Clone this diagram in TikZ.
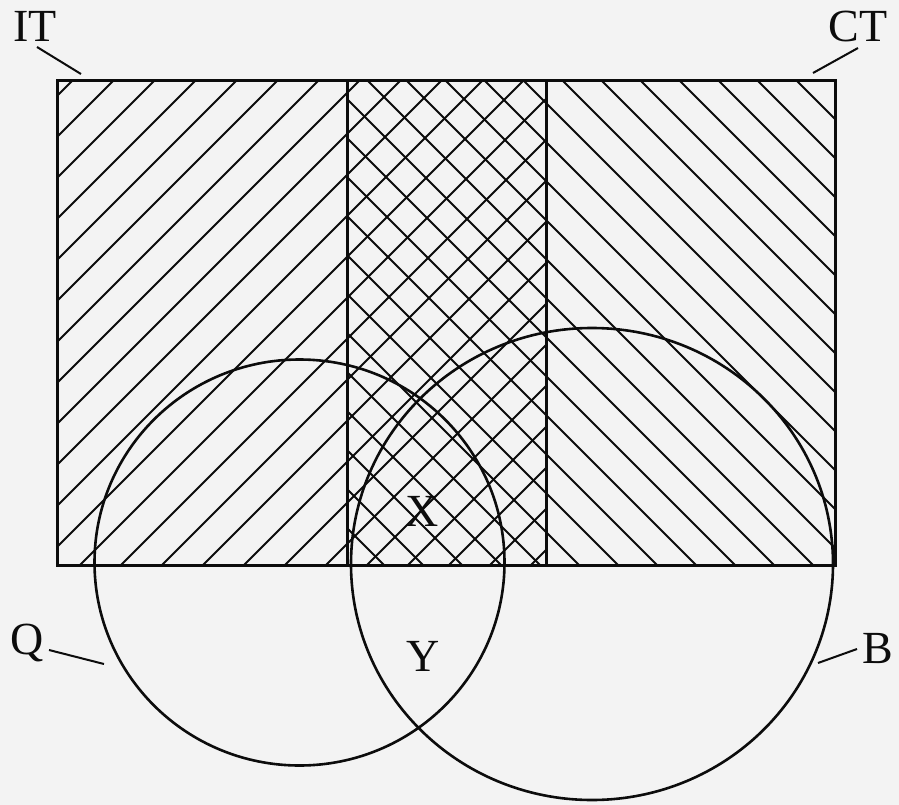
\documentclass[tikz,border=0pt]{standalone}
\usepackage{fontspec}
\setmainfont{Liberation Serif}
\definecolor{paper}{RGB}{243,243,243}
\definecolor{ink}{RGB}{12,12,12}
\tikzset{
  hatch/.style={draw=ink, line width=2pt},
  frame/.style={draw=ink, line width=3pt},
  ring/.style={draw=ink, line width=2.6pt},
  lead/.style={draw=ink, line width=2pt},
  lbl/.style={text=ink, inner sep=0pt, font=\fontsize{46}{50}\selectfont}
}
\begin{document}
\begin{tikzpicture}[x=1pt,y=-1pt]
\fill[paper] (0,0) rectangle (899,805);
\useasboundingbox (0,0) rectangle (899,805);
% IT hatching (/)
\begin{scope}
  \clip (57,81) rectangle (546,565);
  \foreach \k in {-2,...,23}{
    \pgfmathsetmacro{\c}{194+41*\k}
    \draw[hatch] (\c,0) -- (\c-700,700);
  }
\end{scope}
% CT hatching (\)
\begin{scope}
  \clip (347,81) rectangle (835,565);
  \foreach \k in {-8,...,19}{
    \pgfmathsetmacro{\c}{482-39*\k}
    \draw[hatch] (\c,0) -- (\c+700,700);
  }
\end{scope}
% frames
\draw[frame] (57,81) rectangle (835,565);
\draw[frame] (347,81) -- (347,565);
\draw[frame] (546,81) -- (546,565);
% circles
\coordinate (qc) at (299.5,562.5);
\coordinate (bc) at (592,564);
\draw[ring] (qc) ellipse [x radius=205pt, y radius=203pt];
\draw[ring] (bc) ellipse [x radius=241pt, y radius=236pt];
% labels
\node[lbl] (it) at (35,26) {IT};
\node[lbl] (ct) at (858,26) {CT};
\node[lbl] (q) at (27,643) {Q};
\node[lbl] (b) at (878,649) {B};
\node[lbl] (x) at (422,511) {X};
\node[lbl] (y) at (423,656) {Y};
% leader lines
\coordinate (itend) at (81,74);
\coordinate (ctend) at (813,73);
\coordinate (qend) at (104,664);
\coordinate (bend) at (818,663);
\draw[lead] (37,47) -- (itend);
\draw[lead] (858,48) -- (ctend);
\draw[lead] (49,650) -- (qend);
\draw[lead] (857,649) -- (bend);
\end{tikzpicture}
\end{document}
